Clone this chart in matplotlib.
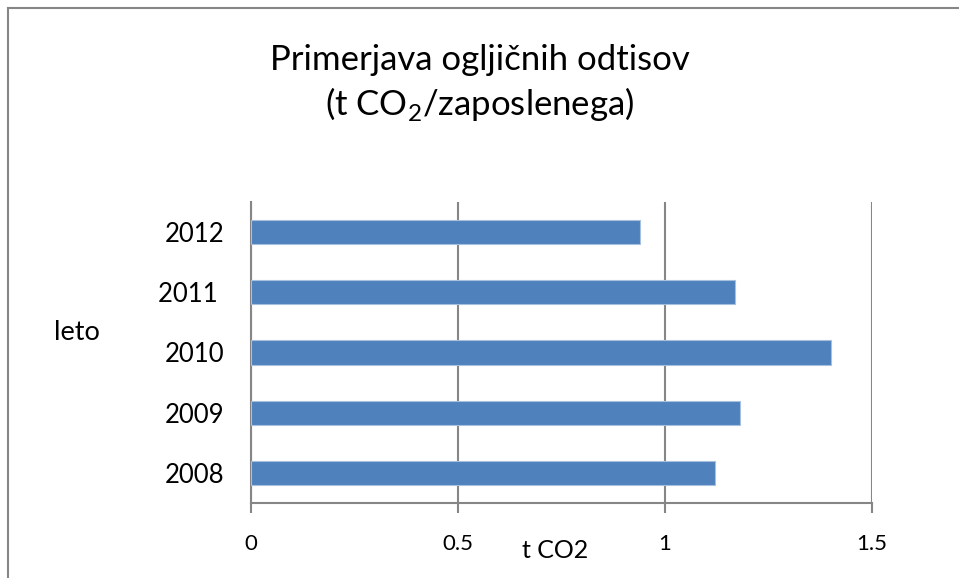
import matplotlib.pyplot as plt
from matplotlib.lines import Line2D

# Data
years = ["2008", "2009", "2010", "2011 ", "2012"]
co2_per_employee = [1.12, 1.18, 1.40, 1.17, 0.94]
x_ticks = [0, 0.5, 1, 1.5]
x_tick_labels = ["0", "0.5", "1", "1.5"]

bar_color = "#4F81BD"
grid_color = "#868686"

plt.rcParams['font.family'] = ['Lato', 'DejaVu Sans']

fig = plt.figure(figsize=(9.59, 5.78), dpi=100)
ax = fig.add_axes([251 / 959, 75 / 578, 621 / 959, 301 / 578])

ypos = list(range(len(years)))
ax.barh(ypos, co2_per_employee, height=0.4, color=bar_color,
        edgecolor="#A7C0DE", linewidth=0.8, zorder=3)

ax.set_xlim(0, 1.5)
ax.set_ylim(-0.5, len(years) - 0.5)
ax.set_xticks(x_ticks)
ax.set_xticklabels(x_tick_labels)
ax.set_yticks(ypos)
ax.set_yticklabels(years)

# vertical grid lines like the Excel chart
ax.grid(axis="x", color=grid_color, linewidth=1.5, zorder=0)
ax.grid(axis="y", visible=False)

for side in ["top", "right"]:
    ax.spines[side].set_visible(False)
for side in ["left", "bottom"]:
    ax.spines[side].set_color(grid_color)
    ax.spines[side].set_linewidth(1.5)

ax.tick_params(axis="x", length=7, width=1.5, color=grid_color, pad=15,
               labelsize=16)
ax.tick_params(axis="y", length=0, pad=19, labelsize=18.5)

# axis titles placed as in the reference
fig.text(77 / 959, 1 - 333 / 578, "leto", fontsize=19.5, ha="center", va="center")
fig.text(555 / 959, 1 - 551 / 578, "t CO2", fontsize=18, ha="center", va="center")

# two-line chart title
fig.text(480 / 959, 1 - 60 / 578, "Primerjava ogljičnih odtisov",
         fontsize=25, ha="center", va="center")
fig.text(480 / 959, 1 - 104 / 578, r"(t CO$_\mathregular{2}$/zaposlenega)",
         fontsize=25, ha="center", va="center")

# outer chart frame (runs off the right and bottom edge)
fig.add_artist(Line2D([8 / 959, 1.0], [1 - 8 / 578, 1 - 8 / 578],
                      color=grid_color, linewidth=1.5))
fig.add_artist(Line2D([8 / 959, 8 / 959], [0.0, 1 - 8 / 578],
                      color=grid_color, linewidth=1.5))

fig.savefig("out.png", dpi=100)
